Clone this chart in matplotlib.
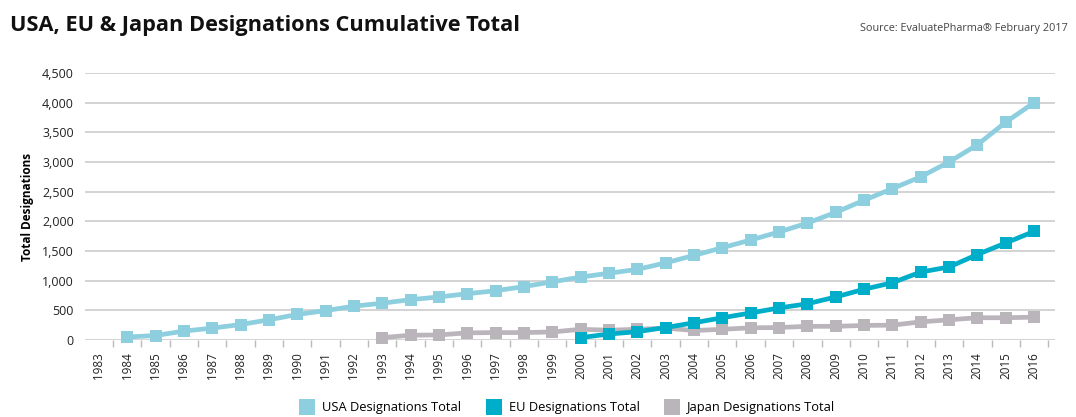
import numpy as np
import matplotlib.pyplot as plt
from matplotlib.lines import Line2D

# cumulative designations

years = list(range(1983, 2017))

usa = [None, 50, 75, 150, 200, 260, 340, 430, 495, 570, 620, 680, 725, 780, 830,
       900, 980, 1060, 1125, 1190, 1300, 1425, 1555, 1685, 1820, 1970, 2150, 2355,
       2550, 2750, 3000, 3290, 3670, 4000]
eu = [None] * 17 + [40, 100, 140, 210, 290, 375, 455, 540, 610, 725, 855, 965,
                    1145, 1230, 1440, 1635, 1830]
japan = [None] * 10 + [40, 80, 85, 120, 125, 125, 135, 180, 165, 180, 200, 160,
                       180, 205, 210, 230, 230, 245, 250, 305, 340, 375, 375, 385]

names = ['USA Designations Total', 'EU Designations Total', 'Japan Designations Total']
colors = ['#8dcfdf', '#00aec9', '#b9b5bb']

# ================================================

plt.rcParams['font.family'] = ['Open Sans', 'DejaVu Sans']

fig = plt.figure(figsize=(10.76, 4.17), dpi=100)
ax = fig.add_axes([0.079, 0.1847, 0.9015, 0.6403])

x = np.arange(len(years))
for vals, c in zip([usa, eu, japan][::-1], colors[::-1]):
    y = np.array([np.nan if v is None else v for v in vals], dtype=float)
    ax.plot(x, y, color=c, linewidth=3.4, marker='s', markersize=8.5,
            markeredgewidth=0, clip_on=False, zorder=3)

ax.set_xlim(-0.49, 33.74)
ax.set_ylim(0, 4500)
ax.set_yticks(np.arange(0, 4501, 500))
ax.yaxis.set_major_formatter(plt.FuncFormatter(lambda v, p: f'{int(v):,}'))
ax.grid(axis='y', color='#cccccc', linewidth=1.2)
ax.set_axisbelow(True)
for s in ax.spines.values():
    s.set_visible(False)

ax.set_xticks(x)
ax.set_xticklabels([str(yr) for yr in years], rotation=90)
ax.set_xticks(x + 0.5, minor=True)
ax.tick_params(axis='x', which='major', length=0, pad=9, labelsize=8.4, colors='#222222')
ax.tick_params(axis='x', which='minor', length=5, color='#bbbbbb', width=1)
ax.tick_params(axis='y', length=0, pad=8, labelsize=9, colors='#222222')

ax.set_ylabel('Total Designations', fontsize=8.5, fontweight='bold', labelpad=6)

fig.text(0.009, 0.94, 'USA, EU & Japan Designations Cumulative Total', fontsize=15.7,
         fontweight='bold', ha='left', va='center', color='#111111')
fig.text(0.992, 0.932, 'Source: EvaluatePharma® February 2017', fontsize=7.8,
         ha='right', va='center', color='#444444')

handles = [Line2D([], [], linestyle='none', marker='s', markersize=11,
                  markeredgewidth=0, color=c) for c in colors]
fig.legend(handles, names, loc='center', bbox_to_anchor=(0.527, 0.022), ncol=3,
           frameon=False, fontsize=9.3, handletextpad=0.5, columnspacing=1.9,
           handlelength=1.3)

plt.savefig('out.png', dpi=100)
